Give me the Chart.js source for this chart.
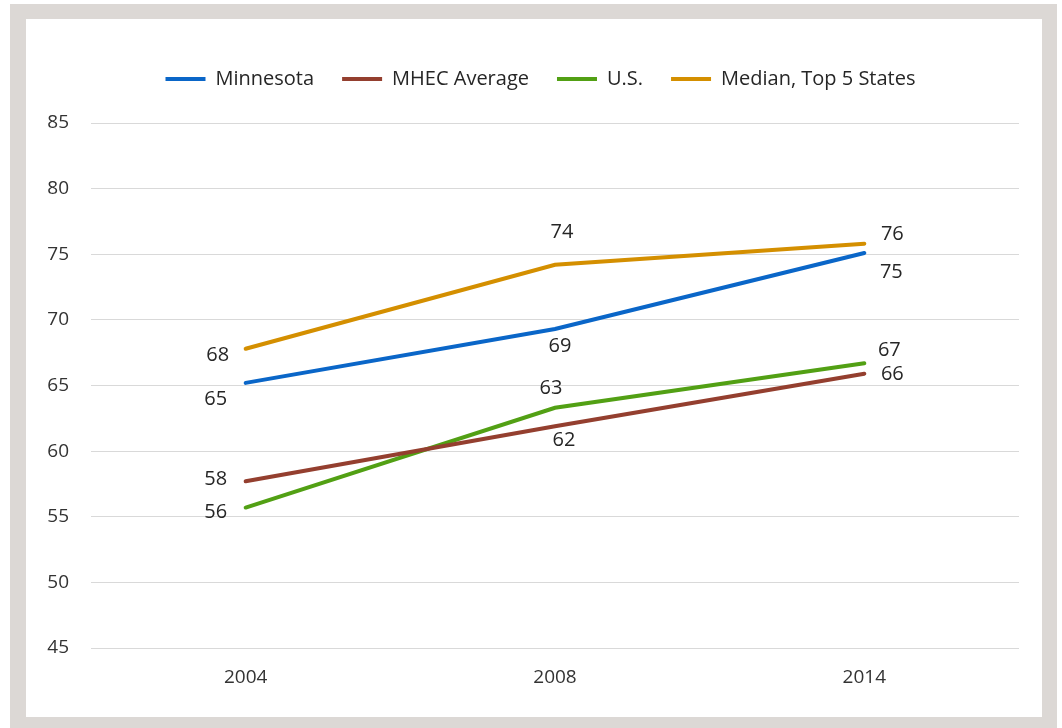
<!doctype html>
<html lang="en">
<head>
    <meta charset="UTF-8">
    <title>Chart</title>
    <script src="https://cdn.jsdelivr.net/npm/chart.js"></script>
    <style>
        body { margin: 0; background: #fff; }
        .frame { position: absolute; left: 10px; top: 4px; width: 1047px; height: 724px; background: #dcd8d5; }
        .inner { position: absolute; left: 16px; top: 15px; width: 1016px; height: 698px; background: #fff; }
    </style>
</head>
<body>

<div class="frame">
    <div class="inner">
        <canvas id="lineChart" width="1016" height="698"></canvas>
    </div>
</div>

<script>
    // categories and series
    const years = ['2004', '2008', '2014'];
    const minnesota = [65.2, 69.3, 75.1];
    const mhecAverage = [57.7, 61.9, 65.9];
    const us = [55.7, 63.3, 66.7];
    const medianTop5 = [67.8, 74.2, 75.8];

    // y axis ticks
    const yMin = 45;
    const yMax = 85;
    const yStep = 5;

    // where each value label sits relative to its point (dx, dy)
    const labelOffsets = {
        'Minnesota': [[-30, 16], [5, 17], [27, 19]],
        'MHEC Average': [[-30, -2], [9, 14], [28, 1]],
        'U.S.': [[-30, 5], [-4, -20], [25, -13]],
        'Median, Top 5 States': [[-28, 7], [7, -32], [28, -9]]
    };

    const valueLabels = {
        id: 'valueLabels',
        afterDatasetsDraw(chart) {
            const ctx = chart.ctx;
            ctx.save();
            ctx.font = '20px "Open Sans"';
            ctx.fillStyle = '#262626';
            ctx.textAlign = 'center';
            ctx.textBaseline = 'middle';
            chart.data.datasets.forEach((ds, i) => {
                const meta = chart.getDatasetMeta(i);
                const offs = labelOffsets[ds.label];
                meta.data.forEach((pt, j) => {
                    ctx.fillText(Math.round(ds.data[j]), pt.x + offs[j][0], pt.y + offs[j][1]);
                });
            });
            ctx.restore();
        }
    };

    // more room under the legend, and centre it over the plot
    const legendGap = {
        id: 'legendGap',
        beforeLayout(chart) {
            const legend = chart.legend;
            if (legend && !legend._gapSet) {
                const fit = legend.fit;
                legend.fit = function () {
                    fit.call(this);
                    this.height += 24;
                };
                legend._gapSet = true;
            }
        },
        afterLayout(chart) {
            if (chart.legend) chart.legend.left += 36;
        }
    };

    function line(label, data, color) {
        return {
            label: label,
            data: data,
            borderColor: color,
            backgroundColor: color,
            borderWidth: 4,
            borderCapStyle: 'round',
            pointRadius: 0,
            tension: 0
        };
    }

    const ctx = document.getElementById('lineChart').getContext('2d');
    new Chart(ctx, {
        type: 'line',
        data: {
            labels: years,
            datasets: [
                line('Minnesota', minnesota, '#0A66C8'),
                line('MHEC Average', mhecAverage, '#943F2F'),
                line('U.S.', us, '#52A014'),
                line('Median, Top 5 States', medianTop5, '#D48F00')
            ]
        },
        options: {
            responsive: false,
            animation: false,
            layout: {
                padding: { top: 22, left: 0, right: 23, bottom: 31 }
            },
            plugins: {
                tooltip: { enabled: false },
                legend: {
                    position: 'top',
                    labels: {
                        boxWidth: 40,
                        boxHeight: 4,
                        padding: 28,
                        color: '#262626',
                        font: { family: 'Open Sans', size: 20 },
                        generateLabels(chart) {
                            return Chart.defaults.plugins.legend.labels.generateLabels(chart).map(item => {
                                item.fillStyle = item.strokeStyle;
                                item.lineWidth = 0;
                                return item;
                            });
                        }
                    }
                }
            },
            scales: {
                x: {
                    offset: true,
                    grid: { display: false, drawTicks: false },
                    border: { display: false },
                    ticks: {
                        padding: 18,
                        color: '#333',
                        font: { family: 'Open Sans', size: 19 }
                    },
                    afterFit(scale) { scale.height = 38; }
                },
                y: {
                    min: yMin,
                    max: yMax,
                    grid: { color: '#d9d9d9', lineWidth: 1, drawTicks: false },
                    border: { display: false },
                    ticks: {
                        stepSize: yStep,
                        padding: 22,
                        color: '#333',
                        font: { family: 'Open Sans', size: 19 }
                    },
                    afterFit(scale) { scale.width = 65; }
                }
            }
        },
        plugins: [valueLabels, legendGap]
    });
</script>

</body>
</html>
